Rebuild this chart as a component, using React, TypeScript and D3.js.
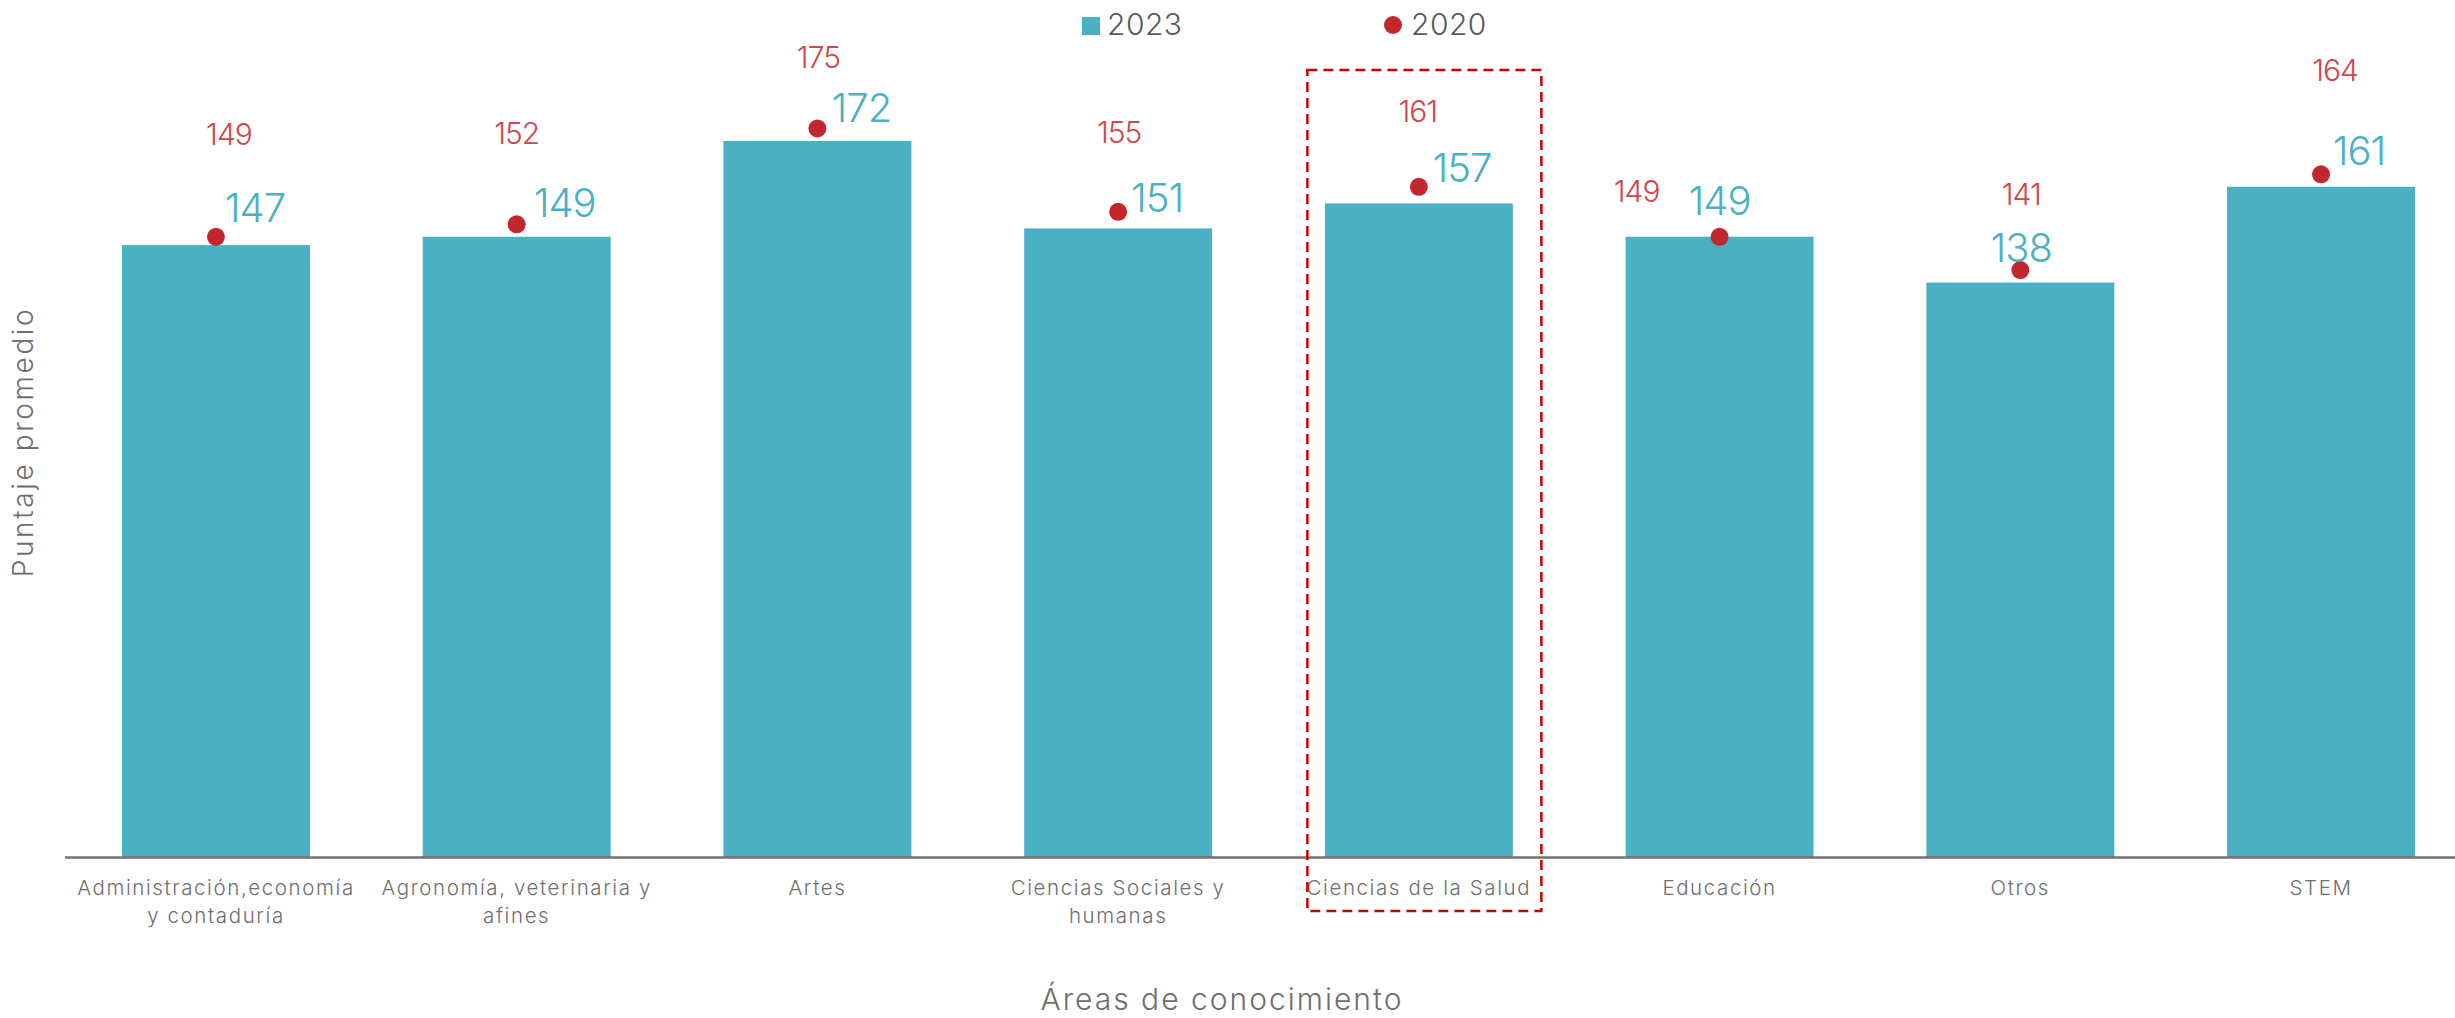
import React, { useEffect } from "react";
import * as d3 from "d3";

const categories = [
  "Administración,economía y contaduría",
  "Agronomía, veterinaria y afines",
  "Artes",
  "Ciencias Sociales y humanas",
  "Ciencias de la Salud",
  "Educación",
  "Otros",
  "STEM",
];
const categoryLines = [
  ["Administración,economía", "y contaduría"],
  ["Agronomía, veterinaria y", "afines"],
  ["Artes"],
  ["Ciencias Sociales y", "humanas"],
  ["Ciencias de la Salud"],
  ["Educación"],
  ["Otros"],
  ["STEM"],
];
const values2023 = [147, 149, 172, 151, 157, 149, 138, 161];
const values2020 = [149, 152, 175, 155, 161, 149, 141, 164];
const legendLabels = ["2023", "2020"];
const yTitle = "Puntaje promedio";
const xTitle = "Áreas de conocimiento";
const highlighted = "Ciencias de la Salud";

// label layout offsets (manually placed labels in the original)
const label2023Offsets: [number, number][] = [
  [39, -23], [48, -20], [44, -19], [39, -16], [43, -21], [0, -22], [1, -21], [38, -22],
];
const label2020Offsets: [number, number][] = [
  [13, -92], [0, -80], [1, -60], [1, -69], [-1, -65], [-83, -35], [1, -65], [14, -93],
];

const W = 2455;
const H = 1018;
const BAR = "#4AB0C4";
const DOT = "#C1272D";
const RED_TEXT = "#D0454B";
const GRAY = "#6E6E6E";
const FONT = "Inter, Lato, 'Open Sans', sans-serif";

export default function App() {
  useEffect(() => {
    document.body.style.margin = "0";
  }, []);

  const x = d3
    .scaleBand<string>()
    .domain(categories)
    .range([65.6, 2471.4])
    .paddingInner(0.375)
    .paddingOuter(0.1875);
  const baseY = 857.5;
  const y = d3.scaleLinear().domain([0, 180]).range([baseY, baseY - 180 * 4.166]);

  const hi = categories.indexOf(highlighted);
  const hiX = x(categories[hi])! + x.bandwidth() / 2;

  return (
    <svg width={W} height={H} style={{ display: "block", background: "#fff" }}>
      {/* Legend */}
      <g fontFamily={FONT} fontWeight={300} fontSize={30} fill="#595959">
        <rect x={1082} y={17} width={18} height={18} fill={BAR} />
        <text x={1107} y={35} letterSpacing={0.5}>{legendLabels[0]}</text>
        <circle cx={1393} cy={25} r={9} fill={DOT} />
        <text x={1411} y={35} letterSpacing={0.5}>{legendLabels[1]}</text>
      </g>

      {/* Bars */}
      {categories.map((c, i) => (
        <rect
          key={c}
          x={x(c)!}
          y={y(values2023[i])}
          width={x.bandwidth()}
          height={baseY - y(values2023[i])}
          fill={BAR}
        />
      ))}

      {/* Axis line */}
      <line x1={65} x2={W} y1={baseY} y2={baseY} stroke="#767171" strokeWidth={2.5} />

      {/* Dots 2020 */}
      {categories.map((c, i) => (
        <circle
          key={c + "-dot"}
          cx={x(c)! + x.bandwidth() / 2}
          cy={y(values2020[i])}
          r={9}
          fill={DOT}
        />
      ))}

      {/* Labels 2023 */}
      {categories.map((c, i) => (
        <text
          key={c + "-l23"}
          x={x(c)! + x.bandwidth() / 2 + label2023Offsets[i][0]}
          y={y(values2023[i]) + label2023Offsets[i][1]}
          textAnchor="middle"
          fontFamily={FONT}
          fontWeight={300}
          fontSize={40}
          letterSpacing={-1}
          fill={BAR}
        >
          {values2023[i]}
        </text>
      ))}

      {/* Labels 2020 */}
      {categories.map((c, i) => (
        <text
          key={c + "-l20"}
          x={x(c)! + x.bandwidth() / 2 + label2020Offsets[i][0]}
          y={y(values2020[i]) + label2020Offsets[i][1]}
          textAnchor="middle"
          fontFamily={FONT}
          fontWeight={300}
          fontSize={30}
          letterSpacing={-1}
          fill={RED_TEXT}
        >
          {values2020[i]}
        </text>
      ))}

      {/* Category labels */}
      {categories.map((c, i) => (
        <text
          key={c + "-cat"}
          x={x(c)! + x.bandwidth() / 2}
          y={895}
          textAnchor="middle"
          fontFamily={FONT}
          fontWeight={300}
          fontSize={20.5}
          letterSpacing={1.6}
          fill={GRAY}
        >
          {categoryLines[i].map((ln, j) => (
            <tspan key={j} x={x(c)! + x.bandwidth() / 2} dy={j === 0 ? 0 : 28}>
              {ln}
            </tspan>
          ))}
        </text>
      ))}

      {/* Highlight box */}
      <rect
        x={hiX - 111.5}
        y={70}
        width={234}
        height={841}
        fill="none"
        stroke="#CC0000"
        strokeWidth={2.5}
        strokeDasharray="10,6"
      />

      {/* Axis titles */}
      <text
        transform={`translate(33,442) rotate(-90)`}
        textAnchor="middle"
        fontFamily={FONT}
        fontWeight={300}
        fontSize={28}
        letterSpacing={2.6}
        fill={GRAY}
      >
        {yTitle}
      </text>
      <text
        x={1222}
        y={1010}
        textAnchor="middle"
        fontFamily={FONT}
        fontWeight={300}
        fontSize={30}
        letterSpacing={2}
        fill={GRAY}
      >
        {xTitle}
      </text>
    </svg>
  );
}
